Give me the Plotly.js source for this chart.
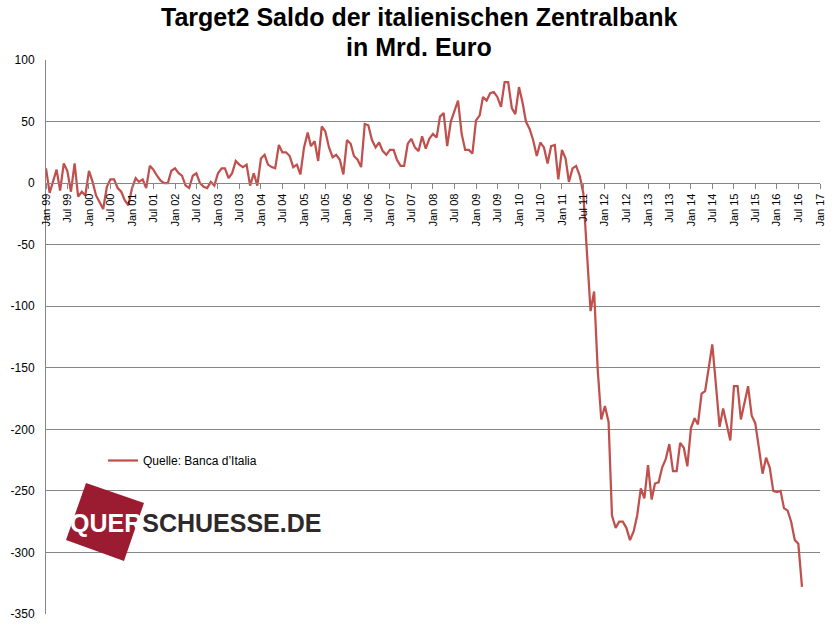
<!DOCTYPE html>
<html>
<head>
<meta charset="utf-8">
<script src="https://cdn.plot.ly/plotly-3.0.1.min.js"></script>
<style>html,body{margin:0;padding:0;background:#fff;}#chart{width:834px;height:625px;}</style>
</head>
<body>
<div id="chart"></div>
<script>
// Start month of the series
const startYear = 1999;
const startMonth = 1;

// Target2 balance of Banca d'Italia, billion euro, monthly
const saldo1999 = [12, -8, 1, 11, -6, 16, 10, -7, 16, -11, -7, -10];
const saldo2000 = [10, 1, -10, -16, -21, -3, 3, 3, -4, -7, -14, -18];
const saldo2001 = [-4, 4, 1, 3, -4, 14, 11, 6, 2, 0, 0, 10];
const saldo2002 = [12, 8, 6, -2, -4, 6, 8, 0, -3, -4, 1, -2];
const saldo2003 = [8, 12, 12, 4, 8, 18, 15, 13, 15, -2, 8, -2];
const saldo2004 = [20, 23, 15, 13, 12, 31, 25, 25, 22, 13, 15, 7];
const saldo2005 = [29, 41, 30, 34, 18, 46, 42, 29, 21, 23, 19, 7];
const saldo2006 = [35, 32, 22, 19, 13, 48, 47, 35, 29, 33, 26, 23];
const saldo2007 = [27, 27, 19, 14, 14, 32, 36, 29, 26, 38, 28, 36];
const saldo2008 = [40, 37, 54, 57, 30, 50, 58, 67, 40, 27, 27, 24];
const saldo2009 = [51, 55, 70, 67, 73, 74, 70, 62, 82, 82, 61, 56];
const saldo2010 = [78, 65, 50, 44, 35, 22, 33, 29, 16, 30, 31, 3];
const saldo2011 = [27, 20, 1, 12, 14, 6, -8, -55, -104, -88, -152, -192];
const saldo2012 = [-181, -194, -270, -280, -275, -275, -280, -290, -283, -270, -248, -256];
const saldo2013 = [-229, -257, -244, -243, -231, -224, -212, -234, -234, -211, -215, -230];
const saldo2014 = [-199, -191, -196, -171, -169, -150, -131, -164, -198, -183, -197, -209];
const saldo2015 = [-165, -165, -192, -178, -165, -189, -195, -215, -236, -223, -231, -250];
const saldo2016 = [-251, -250, -264, -266, -275, -290, -293, -328];

const yTickVals = [100, 50, 0, -50, -100, -150, -200, -250, -300, -350];
const yTickText = ["100", "50", "0", "-50", "-100", "-150", "-200", "-250", "-300", "-350"];

const seriesName = "Quelle: Banca d\u2019Italia";
const titleLine1 = "Target2 Saldo der italienischen Zentralbank";
const titleLine2 = "in Mrd. Euro";

const values = [].concat(saldo1999, saldo2000, saldo2001, saldo2002, saldo2003, saldo2004,
  saldo2005, saldo2006, saldo2007, saldo2008, saldo2009, saldo2010, saldo2011, saldo2012,
  saldo2013, saldo2014, saldo2015, saldo2016);

const dates = values.map((v, i) => {
  const m0 = (startMonth - 1) + i;
  const y = startYear + Math.floor(m0 / 12);
  const m = (m0 % 12) + 1;
  return y + "-" + String(m).padStart(2, "0") + "-01";
});

// plot area geometry (px) for placing the watermark and titles
const W = 834, H = 625;
const mL = 46, mR = 14, mT = 60, mB = 11;
const pw = W - mL - mR, ph = H - mT - mB;
const px = x => (x - mL) / pw;
const py = y => (H - mB - y) / ph;
const sq = [[86, 483], [144, 503], [124, 561], [66, 540]];
const sqPath = "M " + sq.map(p => px(p[0]) + "," + py(p[1])).join(" L ") + " Z";

const fontFam = "Liberation Sans, Arial, sans-serif";

const trace = {
  x: dates, y: values, type: "scatter", mode: "lines",
  name: seriesName,
  line: {color: "#C0504D", width: 2.25},
  showlegend: true
};

const titleFont = {family: fontFam, size: 25, color: "#000", weight: "bold"};

const layout = {
  width: W, height: H,
  margin: {l: mL, r: mR, t: mT, b: mB, pad: 0},
  paper_bgcolor: "#ffffff", plot_bgcolor: "#ffffff",
  font: {family: fontFam, color: "#000"},
  xaxis: {
    type: "date",
    range: ["1999-01-01", "2017-01-01"],
    anchor: "free", position: 350 / 450,
    tick0: "1999-01-01", dtick: "M6", tickformat: "%b %y",
    tickangle: -90,
    ticks: "outside", ticklen: 5, tickcolor: "#868686", tickwidth: 1,
    showline: true, linecolor: "#868686", linewidth: 1,
    showgrid: false, zeroline: false,
    tickfont: {size: 11, color: "#000", family: fontFam}
  },
  yaxis: {
    range: [-350, 100],
    tickvals: yTickVals, ticktext: yTickText,
    showgrid: true, gridcolor: "#868686", gridwidth: 1,
    zeroline: false,
    showline: true, linecolor: "#868686", linewidth: 1,
    ticks: "", ticklabelstandoff: 8,
    tickfont: {size: 12, color: "#000", family: fontFam}
  },
  legend: {
    x: px(103), y: py(446), xanchor: "left", yanchor: "top",
    bgcolor: "rgba(0,0,0,0)", borderwidth: 0,
    font: {size: 12, color: "#000", family: fontFam},
    itemwidth: 30
  },
  shapes: [{
    type: "path", xref: "paper", yref: "paper", path: sqPath,
    fillcolor: "#9B1C31", line: {width: 0}, layer: "above"
  }],
  annotations: [
    {
      xref: "paper", yref: "paper", x: px(419), y: py(17),
      xanchor: "center", yanchor: "middle", text: titleLine1, showarrow: false, font: titleFont
    },
    {
      xref: "paper", yref: "paper", x: px(419), y: py(47),
      xanchor: "center", yanchor: "middle", text: titleLine2, showarrow: false, font: titleFont
    },
    {
      xref: "paper", yref: "paper", x: px(68), y: py(523), xanchor: "left", yanchor: "middle",
      text: '<span style="color:#ffffff">QUER</span>SCHUESSE.DE',
      showarrow: false,
      font: {family: fontFam, size: 25, color: "#2E2A2B", weight: "bold"}
    }
  ]
};

Plotly.newPlot("chart", [trace], layout, {displayModeBar: false, staticPlot: true});
</script>
</body>
</html>
